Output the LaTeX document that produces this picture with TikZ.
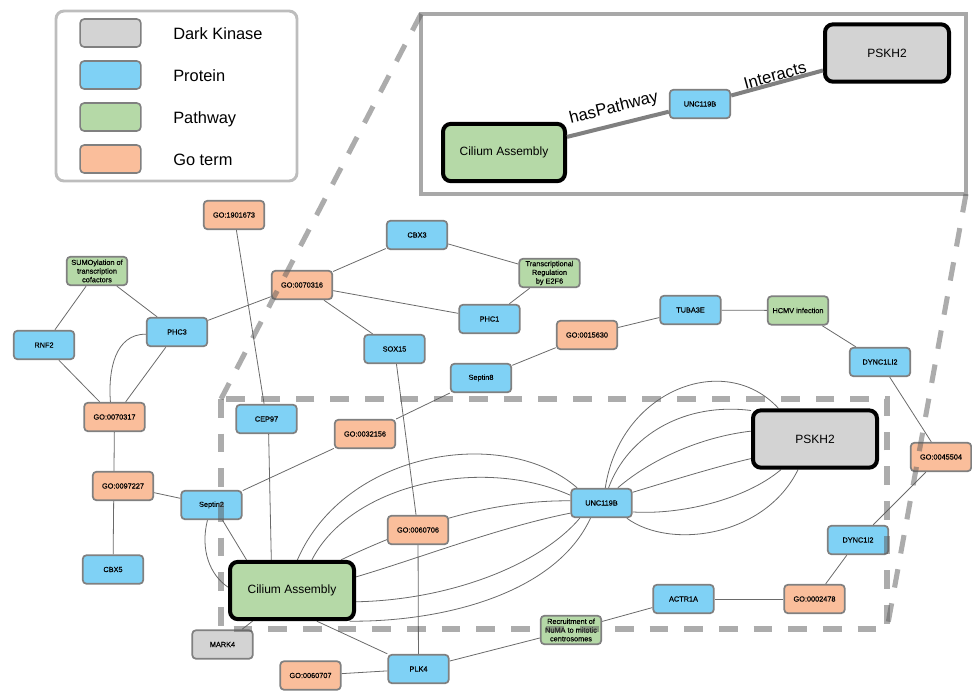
\documentclass[tikz,border=0pt]{standalone}
\usepackage{fontspec}
\setmainfont{Liberation Sans}
\newfontface\smfont{Liberation Sans}[FakeBold=0.35]
\usetikzlibrary{backgrounds}
\definecolor{cprot}{HTML}{7FD1F5}
\definecolor{cpath}{HTML}{B5D9A7}
\definecolor{cgo}{HTML}{FABE9B}
\definecolor{cdark}{HTML}{D3D3D3}
\definecolor{cedge}{HTML}{6A6A6A}
\definecolor{cborder}{HTML}{808080}
\definecolor{clegb}{HTML}{BDBDBD}
\definecolor{cinset}{HTML}{A8A8A8}
\definecolor{cdash}{HTML}{5A5A5A}
\tikzset{
  sm/.style={draw=cborder, line width=1.3pt, rounded corners=3pt, minimum width=45.5pt, minimum height=21.5pt, inner sep=1pt, align=center, font=\smfont\fontsize{5.5}{6.5}\selectfont},
  prot/.style={sm, fill=cprot},
  pathw/.style={sm, fill=cpath},
  goterm/.style={sm, fill=cgo},
  dk/.style={sm, fill=cdark},
  big/.style={draw=black, line width=3pt, rounded corners=6pt, minimum width=93pt, minimum height=43pt, inner sep=1pt, font=\fontsize{9}{11}\selectfont},
  swatch/.style={draw=cborder, line width=1.2pt, rounded corners=3pt, minimum width=45.5pt, minimum height=21pt},
  legtext/.style={anchor=base west, inner sep=0pt, font=\fontsize{12.3}{14}\selectfont},
  edge/.style={draw=cedge, line width=0.6pt},
  iedge/.style={draw=cborder, line width=3pt},
  ilab/.style={font=\fontsize{12.5}{14}\selectfont, sloped, inner sep=1pt},
  dashz/.style={draw=cdash, draw opacity=0.5, line width=3.8pt, dash pattern=on 14pt off 12pt},
}
\begin{document}
\begin{tikzpicture}[x=0.75pt, y=-0.75pt]
\useasboundingbox (0,0) rectangle (972,690);

% legend
\draw[draw=clegb, line width=2.2pt, rounded corners=6pt] (56,11) rectangle (297,181);
\node[swatch, fill=cdark] (lg1) at (110.5,33) {};
\node[swatch, fill=cprot] (lg2) at (110.5,75) {};
\node[swatch, fill=cpath] (lg3) at (110.5,117) {};
\node[swatch, fill=cgo]   (lg4) at (110.5,159) {};
\node[legtext] (lt1) at (173,39) {Dark Kinase};
\node[legtext] (lt2) at (173,81) {Protein};
\node[legtext] (lt3) at (173,123) {Pathway};
\node[legtext] (lt4) at (173,165) {Go term};

% inset
\draw[draw=cinset, line width=3pt] (421,14) rectangle (966,194);
\node[big, fill=cpath, minimum width=91.5pt] (icil) at (504,152.5) {Cilium Assembly};
\node[prot] (iunc) at (700,104) {UNC119B};
\node[big, fill=cdark] (ipsk) at (887,53) {PSKH2};
\draw[iedge] (icil) -- node[ilab, above=4pt] {hasPathway} (iunc);
\draw[iedge] (iunc) -- node[ilab, above=-1pt] {Interacts} (ipsk);

% main nodes
\node[goterm] (go1901673) at (234,215) {GO:1901673};
\node[pathw] (sumo) at (97,271) {SUMOylation of\\transcription\\cofactors};
\node[goterm] (go316) at (302,285) {GO:0070316};
\node[prot] (cbx3) at (417,235) {CBX3};
\node[pathw] (e2f6) at (549.5,273) {Transcriptional\\Regulation\\by E2F6};
\node[prot] (phc1) at (489.5,319) {PHC1};
\node[prot] (phc3) at (177,332) {PHC3};
\node[prot] (rnf2) at (44,345) {RNF2};
\node[prot] (sox15) at (394.5,349) {SOX15};
\node[goterm] (go15630) at (587,335) {GO:0015630};
\node[prot] (tuba3e) at (690.5,310) {TUBA3E};
\node[pathw] (hcmv) at (798,310.5) {HCMV infection};
\node[prot] (dync1li2) at (880,362) {DYNC1LI2};
\node[prot] (septin8) at (481,378) {Septin8};
\node[goterm] (go317) at (114.5,417) {GO:0070317};
\node[prot] (cep97) at (266.5,419) {CEP97};
\node[goterm] (go32156) at (365,434) {GO:0032156};
\node[goterm] (go45504) at (941,457) {GO:0045504};
\node[goterm] (go97227) at (123,486) {GO:0097227};
\node[prot] (septin2) at (211.5,505) {Septin2};
\node[prot] (unc) at (601.5,503) {UNC119B};
\node[goterm] (go706) at (418,530) {GO:0060706};
\node[prot] (dync1i2) at (858,540) {DYNC1I2};
\node[prot] (cbx5) at (113,569.5) {CBX5};
\node[big, fill=cpath] (cil) at (292,590.5) {Cilium Assembly};
\node[big, fill=cdark] (psk) at (815,439) {PSKH2};
\node[prot] (actr1a) at (683.5,599) {ACTR1A};
\node[goterm] (go2478) at (814.5,599) {GO:0002478};
\node[pathw] (numa) at (571,630) {Recruitment of\\NuMA to mitotic\\centrosomes};
\node[dk] (mark4) at (222.5,644.5) {MARK4};
\node[prot] (plk4) at (418.5,669) {PLK4};
\node[goterm] (go60707) at (310.5,675.5) {GO:0060707};

% edges
\begin{scope}[on background layer]
\draw[edge] (go1901673) -- (cep97);
\draw[edge] (sumo) -- (rnf2);
\draw[edge] (sumo) -- (phc3);
\draw[edge] (rnf2) -- (go317);
\draw[edge] (phc3) -- (go317);
\draw[edge] (phc3) -- (go316);
\draw[edge] (go316) -- (cbx3);
\draw[edge] (go316) -- (phc1);
\draw[edge] (go316) -- (sox15);
\draw[edge] (cbx3) -- (e2f6);
\draw[edge] (e2f6) -- (phc1);
\draw[edge] (sox15) -- (go706);
\draw[edge] (septin8) -- (go15630);
\draw[edge] (septin8) -- (go32156);
\draw[edge] (go32156) -- (septin2);
\draw[edge] (go15630) -- (tuba3e);
\draw[edge] (tuba3e) -- (hcmv);
\draw[edge] (hcmv) -- (dync1li2);
\draw[edge] (dync1li2) -- (go45504);
\draw[edge] (go45504) -- (dync1i2);
\draw[edge] (dync1i2) -- (go2478);
\draw[edge] (go2478) -- (actr1a);
\draw[edge] (actr1a) -- (numa);
\draw[edge] (numa) -- (plk4);
\draw[edge] (plk4) -- (go60707);
\draw[edge] (plk4) -- (go706);
\draw[edge] (plk4.154) -- (cil.-51);
\draw[edge] (cil) -- (mark4);
\draw[edge] (cep97.-82) -- (cil.124);
\draw[edge] (go317) -- (cbx5);
\draw[edge] (go97227) -- (septin2);
\draw[edge] (septin2.-54) -- (cil.146);
\draw[edge] (phc3.-176) .. controls (115,334) and (108,370) .. (go317.105);
\draw[edge] (septin2.-105) .. controls (200,550) and (210,575) .. (cil.177);
\draw[edge] (cil.80) .. controls (345,450) and (505,425) .. (unc.148);
\draw[edge] (cil.57) .. controls (350,485) and (480,455) .. (unc.166);
\draw[edge] (cil.32) .. controls (400,532) and (480,500) .. (unc.176);
\draw[edge] (cil.12) .. controls (420,558) and (500,527) .. (unc.-162);
\draw[edge] (cil.-10) .. controls (450,600) and (540,565) .. (unc.-145);
\draw[edge] (cil.-28) .. controls (440,622) and (555,595) .. (unc.-126);
\draw[edge] (unc.76) .. controls (620,390) and (725,350) .. (psk.140);
\draw[edge] (unc.65) .. controls (628,435) and (685,402) .. (psk.156);
\draw[edge] (unc.43) .. controls (650,460) and (700,437) .. (psk.173);
\draw[edge] (unc.19) .. controls (670,481) and (715,467) .. (psk.-163);
\draw[edge] (unc.-16) .. controls (680,515) and (745,500) .. (psk.-138);
\draw[edge] (unc.-31) .. controls (670,550) and (765,537) .. (psk.-119);
\end{scope}

% zoom marker
\coordinate (zTL) at (421,14);
\coordinate (zBR) at (966,194);
\coordinate (rTL) at (221,399);
\coordinate (rBR) at (887,629);
\draw[dashz] (rTL) rectangle (rBR);
\draw[dashz] (zTL) -- (rTL);
\draw[dashz] (zBR) -- (rBR);
\end{tikzpicture}
\end{document}
